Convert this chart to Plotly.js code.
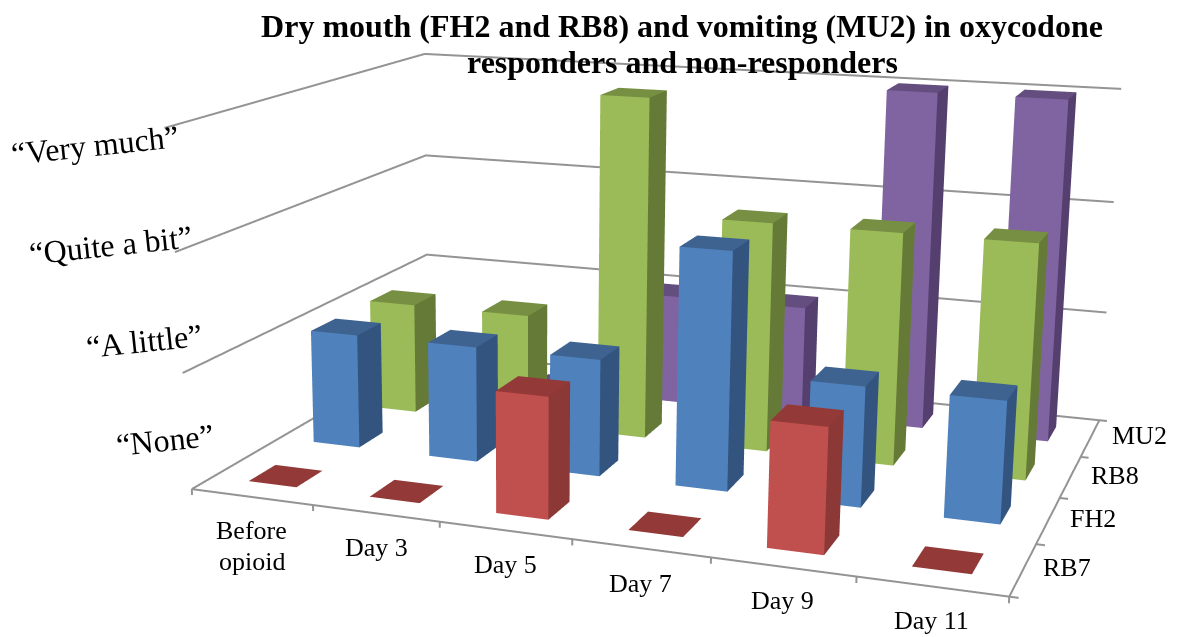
<!DOCTYPE html>
<html>
<head>
<meta charset="utf-8">
<script src="https://cdn.plot.ly/plotly-3.0.1.min.js"></script>
<style>
html,body{margin:0;padding:0;width:1179px;height:637px;overflow:hidden;background:#fff}
#chart{position:absolute}
</style>
</head>
<body>
<div id="chart"></div>
<script>
const titleLines = ["Dry mouth (FH2 and RB8) and vomiting (MU2) in oxycodone", "responders and non-responders"];
const categories = [["Before", "opioid"], ["Day 3"], ["Day 5"], ["Day 7"], ["Day 9"], ["Day 11"]];
const seriesNames = ["RB7", "FH2", "RB8", "MU2"];
const levelLabels = ["“None”", "“A little”", "“Quite a bit”", "“Very much”"];
const RB7 = [0, 0, 1, 0, 1, 0];
const FH2 = [1, 1, 1, 2, 1, 1];
const RB8 = [1, 1, 3, 2, 2, 2];
const MU2 = [0, 0, 1, 1, 3, 3];
const seriesValues = [RB7, FH2, RB8, MU2];
const faceColors = [
  {front:"#C0504D", side:"#8C3836", top:"#933A38"},
  {front:"#4F81BD", side:"#32547F", top:"#3F6391"},
  {front:"#9BBB59", side:"#667A37", top:"#768F43"},
  {front:"#8064A2", side:"#553F6F", top:"#644E80"}
];
const gridColor = "#949494";

// The scene is larger than the window, which gives the long lens of the original.
const W = 1302, H = 1844, LEFT = -123, TOP = -591;
const el = document.getElementById("chart");
el.style.left = LEFT + "px"; el.style.top = TOP + "px";
el.style.width = W + "px"; el.style.height = H + "px";
const px = x => (x - LEFT) / W;
const py = y => 1 - (y - TOP) / H;

const BAR_LO = 0.3, BAR_HI = 0.7;
function barMesh(vals, j, c) {
  const m = {x:[], y:[], z:[], i:[], j:[], k:[], facecolor:[]};
  function quad(a, b, d, e, col) {
    const n = m.x.length;
    [a, b, d, e].forEach(p => { m.x.push(p[0]); m.y.push(p[1]); m.z.push(p[2]); });
    m.i.push(n, n); m.j.push(n + 1, n + 2); m.k.push(n + 2, n + 3);
    m.facecolor.push(col, col);
  }
  vals.forEach((v, i) => {
    const x0 = i + BAR_LO, x1 = i + BAR_HI, y0 = j + BAR_LO, y1 = j + BAR_HI;
    quad([x0,y0,v],[x1,y0,v],[x1,y1,v],[x0,y1,v],c.top);
    if (v > 0) {
      quad([x0,y0,0],[x1,y0,0],[x1,y0,v],[x0,y0,v],c.front);
      quad([x1,y0,0],[x1,y1,0],[x1,y1,v],[x1,y0,v],c.side);
    }
  });
  return m;
}
const traces = seriesValues.map((vals, j) => Object.assign(barMesh(vals, j, faceColors[j]), {
  type: "mesh3d", name: seriesNames[j], flatshading: true, hoverinfo: "skip", showscale: false,
  lighting: {ambient: 1, diffuse: 0, specular: 0, fresnel: 0, roughness: 1},
  lightposition: {x: 0, y: 0, z: 1000}
}));

const nX = categories.length, nY = seriesNames.length, nZ = levelLabels.length - 1;
const lx = [], ly = [], lz = [];
function seg(pts) { pts.forEach(p => { lx.push(p[0]); ly.push(p[1]); lz.push(p[2]); }); lx.push(null); ly.push(null); lz.push(null); }
const gridFrontOverhang = [0, 0.06, 0.1, 0.17];
levelLabels.forEach((_, z) => seg([[0,-gridFrontOverhang[z],z],[0,nY,z],[nX,nY,z]]));
seg([[0,0,0],[nX,0,0],[nX,nY,0]]);
for (let i = 0; i <= nX; i++) seg([[i,0,0],[i,0,-0.05]]);
for (let j = 0; j <= nY; j++) seg([[nX,j,0],[nX + 0.06,j,0]]);
traces.push({type:"scatter3d", mode:"lines", x:lx, y:ly, z:lz, hoverinfo:"skip",
  line:{color:gridColor, width:4}, connectgaps:false, showlegend:false});

const S = 2.5, PADX = 0.1, PADY = 0.2, PADZ = 0.15;
const axis = r => ({range:r, visible:false, showgrid:false, zeroline:false, showline:false,
  showticklabels:false, showbackground:false, showspikes:false, title:{text:""}});

const serif = "Liberation Serif";
const labelAt = (text, x, y, size, angle, weight) => ({text, x:px(x), y:py(y), xref:"paper", yref:"paper",
  showarrow:false, xanchor:"center", yanchor:"middle", textangle:angle || 0,
  font:{family:serif, size, color:"#000", weight:weight || 400}});

const catPos = [[[252,530],[252,561]],[[376,547]],[[505,564]],[[640,583]],[[782,600]],[[931,620]]];
const serPos = [[1067,567],[1093,518],[1115,475],[1139,435]];
const levPos = [[165,440],[144,341],[110,245],[95,145]];
const annotations = [
  labelAt(titleLines[1], 682, 62, 32, 0, 700),
  ...categories.flatMap((lines,i) => lines.map((t,n) => labelAt(t, catPos[i][n][0], catPos[i][n][1], 26))),
  ...seriesNames.map((t,i) => labelAt(t, serPos[i][0], serPos[i][1], 26)),
  ...levelLabels.map((t,i) => labelAt(t, levPos[i][0], levPos[i][1], 32, -6))
];

const layout = {
  width: W, height: H, margin:{l:0,r:0,t:0,b:0,pad:0}, paper_bgcolor:"#fff", showlegend:false,
  title:{text:titleLines[0], x:px(682), xref:"paper", xanchor:"center", y:py(26), yref:"paper", yanchor:"middle",
    font:{family:serif, size:32, color:"#000", weight:700}},
  scene:{
    domain:{x:[0,1], y:[0,1]},
    aspectmode:"manual",
    aspectratio:{x:S*0.3646*(nX+2*PADX)/nX, y:S*0.2606*(nY+2*PADY)/nY, z:S*0.1652*(nZ+2*PADZ)/nZ},
    xaxis:axis([-PADX, nX+PADX]), yaxis:axis([-PADY, nY+PADY]), zaxis:axis([-PADZ, nZ+PADZ]),
    camera:{eye:{x:0.7682,y:-2.4011,z:0.5796}, center:{x:-0.1493,y:-0.0736,z:-0.0543}, up:{x:0,y:0,z:1},
      projection:{type:"perspective"}},
    bgcolor:"#fff"
  },
  annotations
};
Plotly.newPlot(el, traces, layout, {displayModeBar:false});
</script>
</body>
</html>
